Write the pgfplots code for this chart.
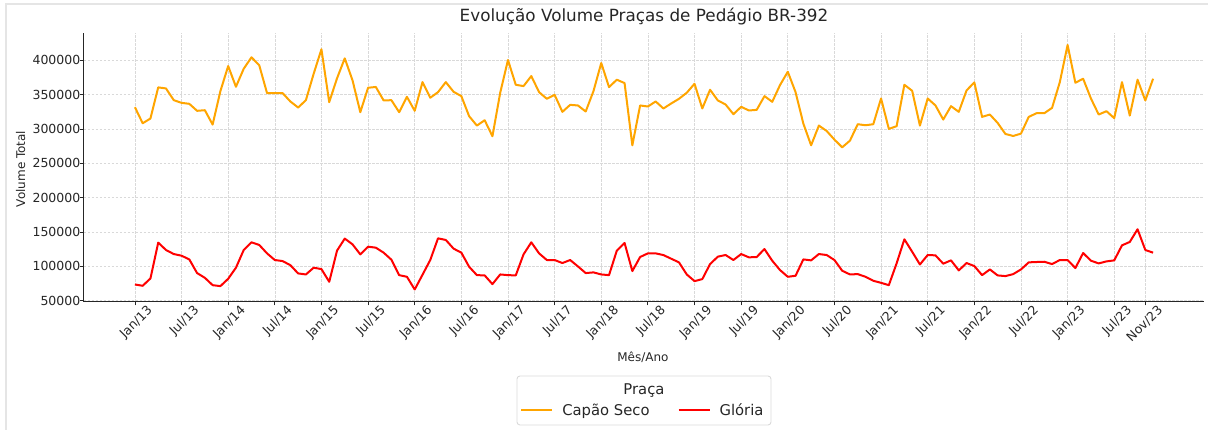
\documentclass[border=0pt]{standalone}
\usepackage{pgfplots}
\pgfplotsset{compat=1.18}
\usepackage{pgfplotstable}
\usepackage{fontspec}
\setmainfont{DejaVu Sans}
\definecolor{corange}{HTML}{FFA500}
\definecolor{cred}{HTML}{FF0000}
\definecolor{txt}{HTML}{262626}

\pgfplotstableread{
i capao gloria
0 331800 73700
1 308400 71800
2 315300 82500
3 360600 134600
4 359100 123900
5 342000 118000
6 338100 115600
7 336700 110200
8 326500 90300
9 327400 83400
10 306500 72700
11 355200 71300
12 391700 82000
13 361500 98100
14 387800 123900
15 404400 135100
16 392700 131200
17 352300 119000
18 352300 109300
19 352300 107800
20 340100 101800
21 331300 89800
22 342000 88300
23 380500 98100
24 416100 96100
25 339100 77600
26 373700 122900
27 402900 140500
28 370800 132100
29 324500 117500
30 360100 128700
31 361200 127300
32 341600 120000
33 342000 109800
34 324500 87300
35 346900 84900
36 326500 66400
37 368300 87800
38 345500 109300
39 353700 140900
40 368300 138500
41 354200 125900
42 347900 120000
43 318700 99500
44 305000 87300
45 312800 86900
46 289500 74200
47 352800 88300
48 400500 87300
49 364400 86900
50 362500 117500
51 377100 135100
52 353700 119000
53 344000 109300
54 349800 109300
55 325000 104900
56 335200 109300
57 334300 100000
58 325500 90300
59 355200 91300
60 396100 88300
61 361000 87300
62 371800 122900
63 366900 134100
64 276300 93200
65 334300 113700
66 332800 119000
67 340100 119000
68 329900 116500
69 337200 111200
70 344000 105900
71 352800 88300
72 365900 78600
73 329900 81500
74 357200 103400
75 341600 114200
76 335700 116600
77 321600 109300
78 332300 118000
79 327000 113200
80 327900 113700
81 347900 125300
82 339600 108300
83 364000 94700
84 383400 84900
85 353700 86400
86 308000 110200
87 276300 108800
88 305000 118000
89 297200 116600
90 284600 109300
91 273400 93700
92 283100 88300
93 307000 88800
94 305500 84900
95 307000 79100
96 344500 76100
97 300200 72700
98 304100 104400
99 364400 139500
100 355700 121400
101 305000 102800
102 344500 116600
103 334300 116100
104 313800 104000
105 333300 108800
106 325000 94200
107 356200 104900
108 367900 100500
109 317700 87300
110 321100 95600
111 308900 86900
112 292800 85900
113 289900 88800
114 293300 95600
115 317700 105900
116 323000 106400
117 323000 106800
118 330800 103400
119 368300 109300
120 422400 109300
121 367400 97600
122 373200 119500
123 344500 108300
124 321100 104400
125 326000 107300
126 315800 108800
127 368300 130700
128 319600 135600
129 371800 154100
130 341600 123900
131 373200 120000
}\datatable

\begin{document}
\begin{tikzpicture}
\begin{axis}[
  scale only axis,
  width=1120pt, height=269pt,
  xmin=-6.55, xmax=137.55,
  ymin=48200, ymax=439800,
  axis lines=left,
  axis line style={-, txt, line width=1pt},
  clip mode=individual,
  xtick={0,6,...,126,130},
  xticklabels={Jan/13,Jul/13,Jan/14,Jul/14,Jan/15,Jul/15,Jan/16,Jul/16,Jan/17,Jul/17,Jan/18,Jul/18,Jan/19,Jul/19,Jan/20,Jul/20,Jan/21,Jul/21,Jan/22,Jul/22,Jan/23,Jul/23,Nov/23},
  ytick={50000,100000,...,400000},
  yticklabel style={/pgf/number format/fixed, /pgf/number format/1000 sep={}, /pgf/number format/assume math mode=true,
    font=\fontsize{12.5}{14}\selectfont, text=txt, anchor=east, inner sep=0pt, xshift=0pt},
  scaled y ticks=false,
  xticklabel style={font=\fontsize{12.5}{14}\selectfont, text=txt, rotate=45, anchor=north east, inner sep=0pt, xshift=9pt, yshift=-7pt},
  tick align=outside,
  major tick length=3.5pt,
  tick style={txt, line width=0.8pt},
  grid=major,
  major grid style={gray!30, line width=0.6pt, dash pattern=on 2.5pt off 1.5pt},
  title={Evolução Volume Praças de Pedágio BR-392},
  title style={font=\fontsize{16.8}{19}\selectfont, text=txt, at={(axis description cs:0.5,1.0212)}, anchor=base},
  xlabel={Mês/Ano},
  xlabel style={font=\fontsize{12}{14}\selectfont, text=txt, at={(axis description cs:0.499,-0.2230)}, anchor=base},
  ylabel={Volume Total},
  ylabel style={font=\fontsize{12}{14}\selectfont, text=txt, at={(axis description cs:-0.0565,0.4944)}, anchor=center},
  legend columns=2,
  legend style={draw=none, fill=none, at={(axis description cs:0.499,-0.4033)}, anchor=center,
    font=\fontsize{14.8}{17}\selectfont, text=txt,
    /tikz/every odd column/.append style={column sep=7pt},
    /tikz/every even column/.append style={column sep=26pt}},
  legend image code/.code={\draw[#1, line width=2pt] (0pt,0pt) -- (31pt,0pt);},
]
\addplot[corange, line width=2pt, line join=round] table[x=i, y=capao] {\datatable};
\addlegendentry{Capão Seco}
\addplot[cred, line width=2pt, line join=round] table[x=i, y=gloria] {\datatable};
\addlegendentry{Glória}
\draw[gray!30, rounded corners=3pt, line width=0.9pt] (axis description cs:0.3866,-0.2751) rectangle (axis description cs:0.6134,-0.4572);
\node[font=\fontsize{14.8}{17}\selectfont, text=txt, anchor=base] at (axis description cs:0.5,-0.3457) {Praça};
\end{axis}
\draw[gray!20, line width=2pt] ([shift={(-77.5pt,-128pt)}]current axis.south west) -- ++(0,425.5pt) -- ++(1201.5pt,0);
\pgfresetboundingbox
\path[use as bounding box] ([shift={(-84pt,-128pt)}]current axis.south west) rectangle ++(1208pt,430pt);
\end{tikzpicture}
\end{document}
